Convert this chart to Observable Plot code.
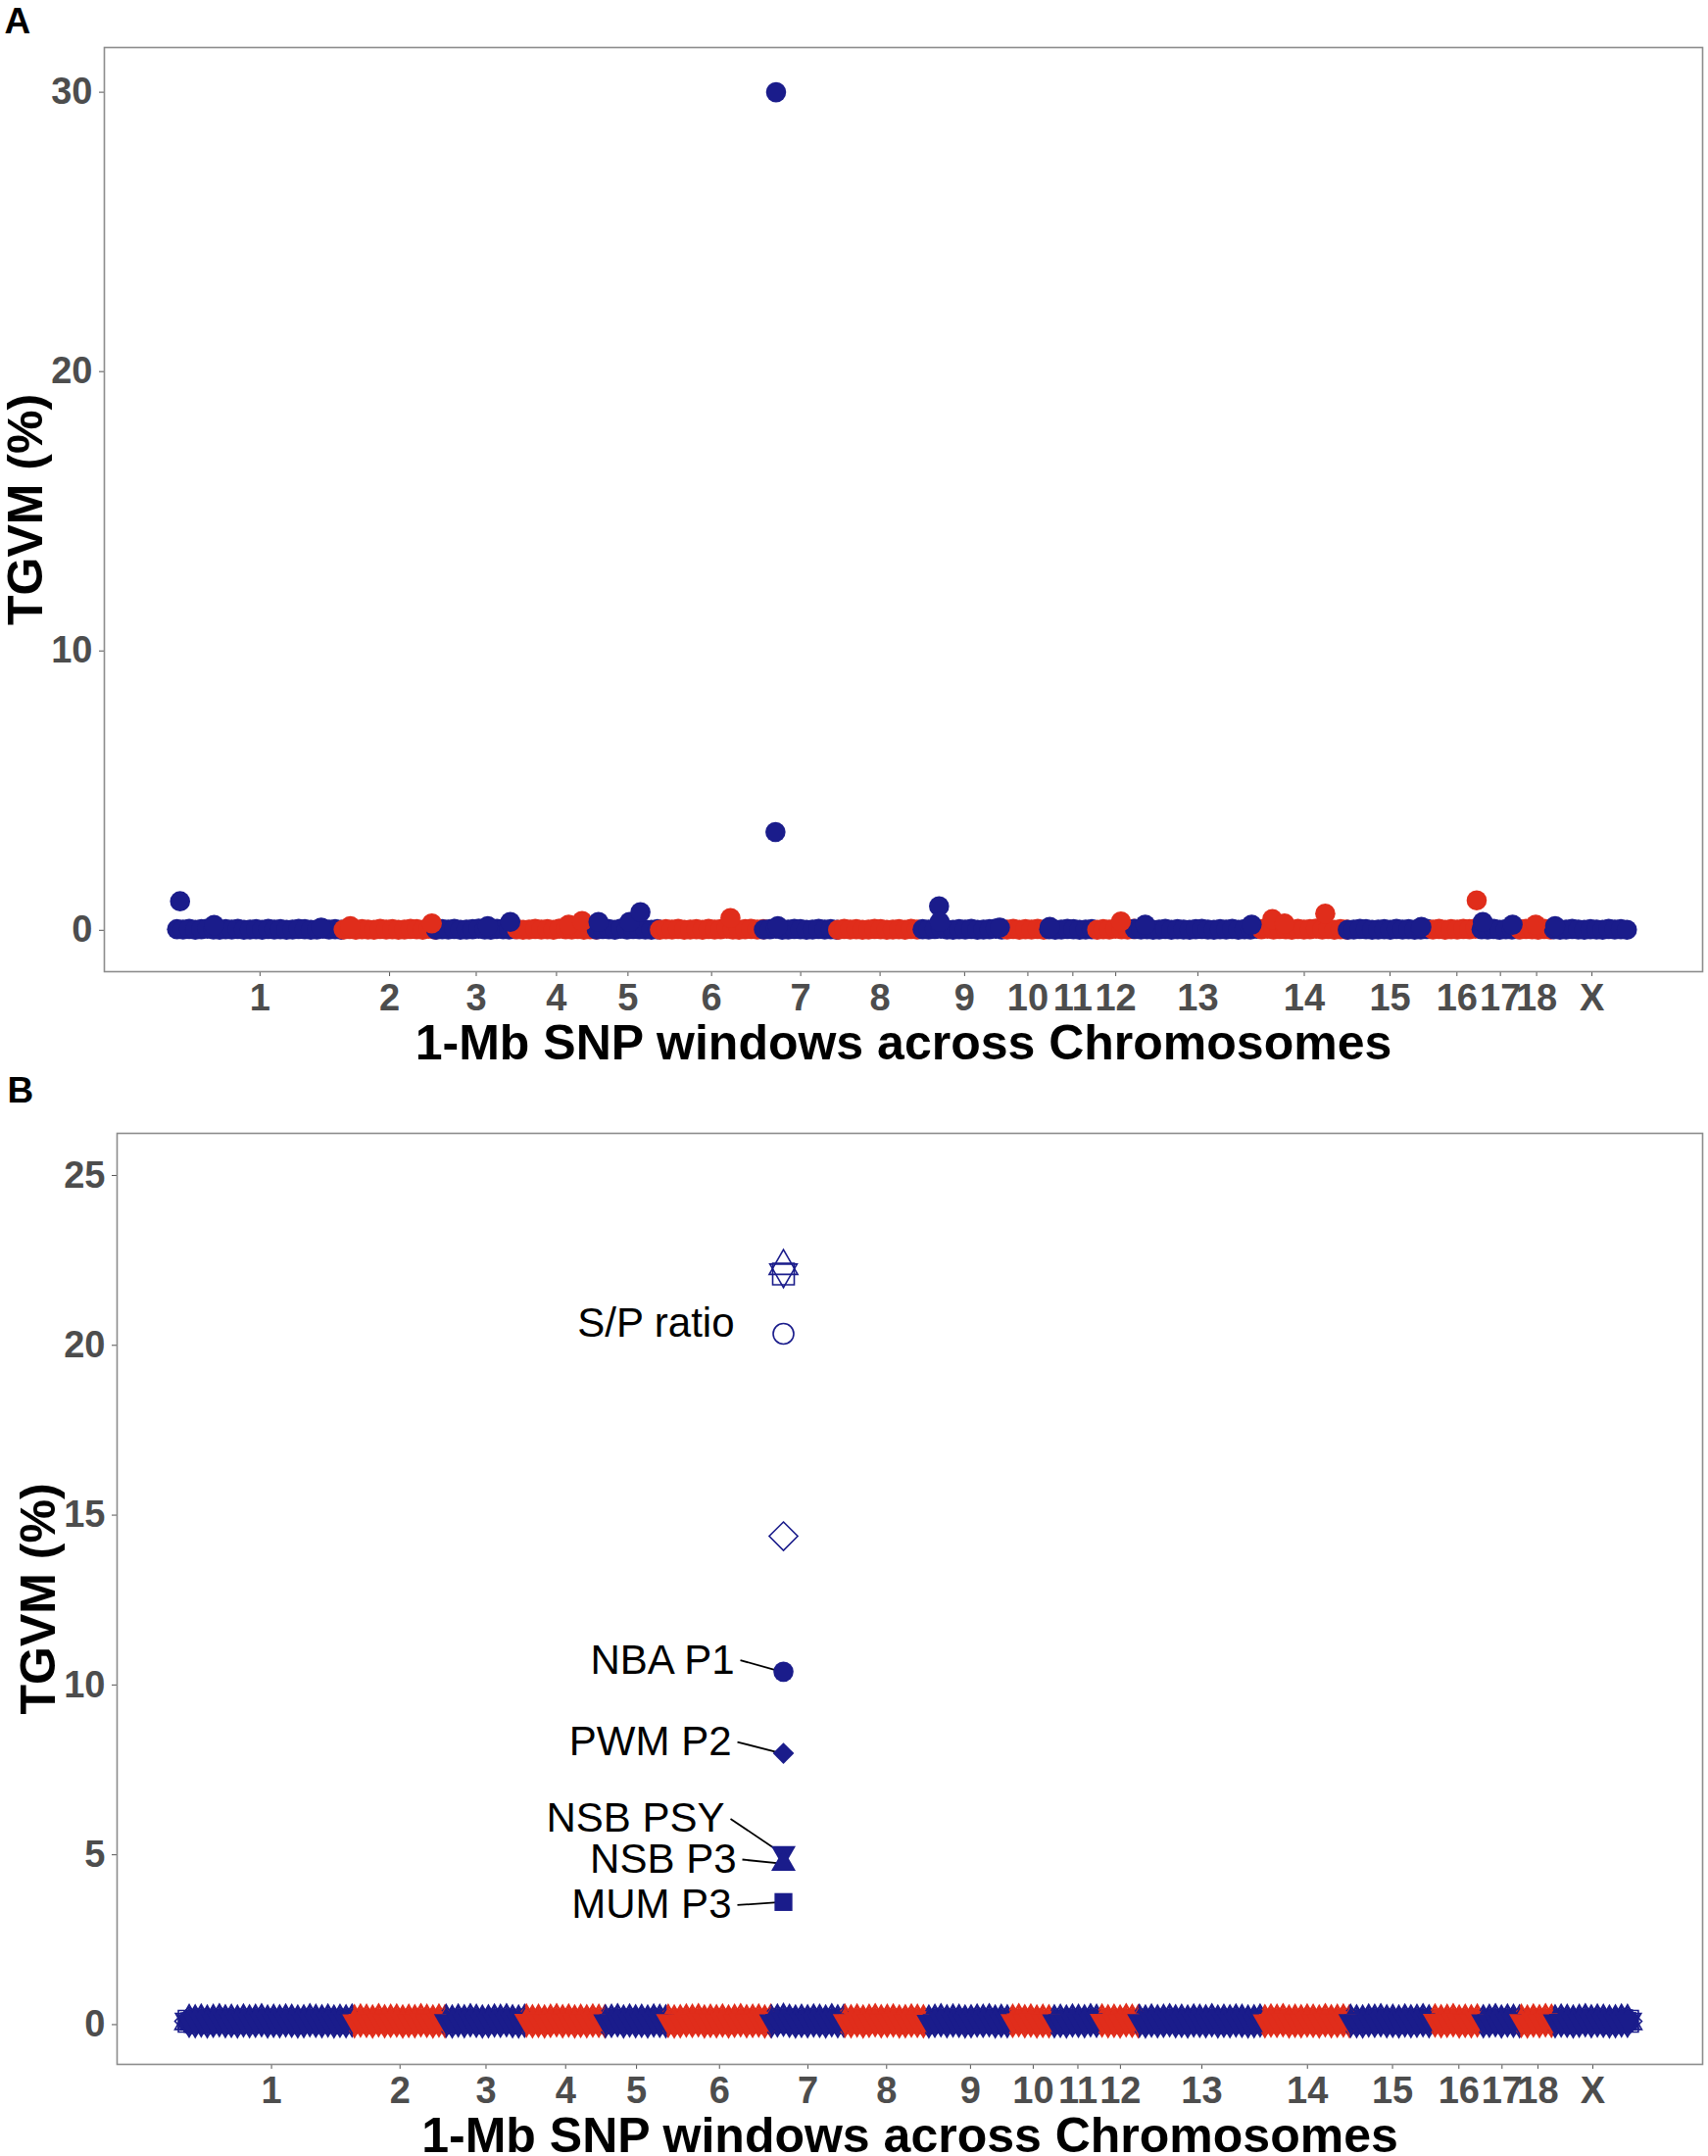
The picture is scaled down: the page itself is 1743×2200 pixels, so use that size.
<!DOCTYPE html>
<html><head><meta charset="utf-8">
<script src="https://cdn.jsdelivr.net/npm/d3@7"></script>
<script src="https://cdn.jsdelivr.net/npm/@observablehq/plot@0.6"></script>
<style>
html,body{margin:0;padding:0;background:#fff;}
#wrap{width:1743px;}
#wrap svg{display:block;}
</style></head><body><div id="wrap"></div>
<script>
// ---------- data ----------
const chromNames   = ["1","2","3","4","5","6","7","8","9","10","11","12","13","14","15","16","17","18","X"];
const chromWindows = [274,152,133,131,104,171,122,139,139,69,79,62,208,142,140,80,63,56,126]; // 1-Mb windows per chromosome
const windowStep = 10; // one baseline sample every 10 windows

// Panel A baseline TGVM (%) per chromosome (one value per sampled window)
const baselineA = [
  [0.04,0.03,0.05,0.02,0.04,0.06,0.03,0.02,0.04,0.03,0.05,0.02,0.03,0.04,0.02,0.05,0.03,0.04,0.02,0.03,0.05,0.04,0.02,0.03,0.06,0.03,0.04,0.02],
  [0.03,0.05,0.02,0.04,0.03,0.02,0.05,0.03,0.04,0.02,0.03,0.05,0.04,0.02,0.06,0.03],
  [0.02,0.04,0.03,0.05,0.02,0.03,0.04,0.06,0.03,0.02,0.05,0.04,0.03,0.05],
  [0.04,0.02,0.03,0.05,0.03,0.04,0.02,0.06,0.04,0.03,0.05,0.02,0.04,0.03],
  [0.03,0.05,0.04,0.02,0.06,0.03,0.05,0.04,0.03,0.02,0.04],
  [0.02,0.04,0.03,0.05,0.02,0.03,0.04,0.02,0.05,0.03,0.04,0.06,0.03,0.02,0.04,0.05,0.03,0.04],
  [0.03,0.04,0.06,0.02,0.03,0.05,0.04,0.02,0.03,0.05,0.03,0.04,0.02],
  [0.02,0.05,0.03,0.04,0.02,0.03,0.05,0.04,0.02,0.03,0.04,0.02,0.05,0.03],
  [0.04,0.03,0.05,0.06,0.03,0.02,0.04,0.03,0.05,0.02,0.03,0.04,0.06,0.03],
  [0.03,0.05,0.02,0.04,0.03,0.05,0.02],
  [0.04,0.02,0.03,0.05,0.04,0.02,0.03,0.04],
  [0.02,0.04,0.03,0.06,0.04,0.03,0.05],
  [0.05,0.03,0.04,0.02,0.03,0.05,0.02,0.04,0.03,0.02,0.04,0.05,0.03,0.02,0.04,0.03,0.05,0.02,0.04,0.03,0.06],
  [0.04,0.06,0.03,0.05,0.04,0.02,0.05,0.03,0.04,0.06,0.03,0.05,0.02,0.04,0.03],
  [0.02,0.03,0.05,0.04,0.02,0.03,0.04,0.02,0.05,0.03,0.04,0.02,0.03,0.05],
  [0.03,0.05,0.02,0.04,0.03,0.05,0.04,0.06],
  [0.04,0.03,0.05,0.02,0.04,0.03,0.05],
  [0.03,0.05,0.04,0.02,0.05,0.03],
  [0.04,0.02,0.03,0.05,0.03,0.02,0.04,0.03,0.02,0.05,0.03,0.04,0.02]
];

// Panel A windows standing out from the baseline
const peakChrA = ["1","1","1","2","2","3","3","4","4","5","5","5","6","7","7","7","9","9","9","11","12","13","13","14","14","14","15","16","17","17","18","X"];
const peakPosA = [6,62,238,12,146,86,123,86,108,4,55,73,117,20,21,24,28,29,128,2,40,18,193,19,39,106,122,73,3,52,27,3];
const peakValA = [1.04,0.19,0.10,0.15,0.25,0.15,0.30,0.20,0.33,0.30,0.30,0.65,0.44,3.52,30.0,0.15,0.86,0.30,0.10,0.12,0.32,0.20,0.20,0.40,0.25,0.60,0.12,1.07,0.30,0.20,0.20,0.15];

// Panel B baseline TGVM (%) per chromosome (shared by all traits)
const baselineB = [
  [0.10,0.09,0.11,0.08,0.10,0.12,0.09,0.10,0.08,0.11,0.09,0.10,0.12,0.08,0.10,0.09,0.11,0.10,0.08,0.09,0.12,0.10,0.09,0.11,0.08,0.10,0.09,0.11],
  [0.09,0.11,0.10,0.08,0.12,0.09,0.10,0.11,0.08,0.10,0.09,0.12,0.10,0.08,0.11,0.09],
  [0.10,0.08,0.11,0.09,0.12,0.10,0.08,0.09,0.11,0.10,0.12,0.09,0.08,0.10],
  [0.11,0.09,0.10,0.08,0.10,0.12,0.09,0.11,0.08,0.10,0.09,0.11,0.10,0.09],
  [0.09,0.10,0.12,0.08,0.11,0.09,0.10,0.08,0.11,0.10,0.09],
  [0.10,0.08,0.09,0.11,0.10,0.12,0.08,0.10,0.09,0.11,0.08,0.10,0.12,0.09,0.10,0.11,0.08,0.10],
  [0.09,0.11,0.13,0.10,0.08,0.10,0.09,0.11,0.10,0.08,0.12,0.09,0.10],
  [0.10,0.09,0.11,0.08,0.10,0.12,0.09,0.10,0.11,0.08,0.09,0.11,0.10,0.09],
  [0.08,0.10,0.12,0.09,0.11,0.10,0.08,0.09,0.11,0.10,0.12,0.08,0.10,0.09],
  [0.10,0.12,0.09,0.11,0.08,0.10,0.09],
  [0.09,0.10,0.08,0.11,0.10,0.09,0.12,0.10],
  [0.11,0.09,0.10,0.08,0.12,0.10,0.09],
  [0.10,0.08,0.11,0.09,0.10,0.12,0.09,0.10,0.08,0.11,0.10,0.09,0.12,0.08,0.10,0.09,0.11,0.10,0.08,0.09,0.11],
  [0.09,0.11,0.10,0.12,0.08,0.10,0.09,0.11,0.10,0.08,0.12,0.09,0.10,0.11,0.09],
  [0.10,0.09,0.08,0.11,0.10,0.12,0.09,0.10,0.08,0.11,0.09,0.10,0.12,0.09],
  [0.11,0.09,0.10,0.12,0.08,0.10,0.09,0.11],
  [0.09,0.10,0.12,0.08,0.11,0.10,0.09],
  [0.10,0.08,0.11,0.09,0.12,0.10],
  [0.09,0.11,0.10,0.08,0.10,0.12,0.09,0.11,0.10,0.08,0.09,0.11,0.10]
];

// Panel B traits (all peaking in the same SSC7 window)
const traitNamesB  = ["S/P ratio a","S/P ratio b","S/P ratio c","S/P ratio d","S/P ratio e","NBA P1","PWM P2","NSB PSY","NSB P3","MUM P3"];
const traitPeakB   = [22.33,22.10,22.16,20.34,14.38,10.39,7.99,5.05,4.74,3.61];
const peakChrB = "7";
const peakPosB = 21;

// Panel B annotation labels
const labelTextB  = ["S/P ratio","NBA P1","PWM P2","NSB PSY","NSB P3","MUM P3"];
const labelTraitB = [3,5,6,7,8,9];
const labelYB     = [20.63,10.73,8.32,6.06,4.86,3.52];

// ---------- styles / layout ----------
const BLUE = "#1a1c8b", RED = "#e02d1b";
const FONT = "'Liberation Sans', Arial, Helvetica, sans-serif";
const traitStyleB = [
  {symbol:"triangle", rotate:0,   r:10.8, filled:false},
  {symbol:"square",   rotate:0,   r:12.4, filled:false},
  {symbol:"triangle", rotate:180, r:10.3, filled:false},
  {symbol:"circle",   rotate:0,   r:10.5, filled:false},
  {symbol:"diamond2", rotate:0,   r:13.1, filled:false},
  {symbol:"circle",   rotate:0,   r:10.3, filled:true},
  {symbol:"diamond2", rotate:0,   r:9.8,  filled:true},
  {symbol:"triangle", rotate:180, r:9.3,  filled:true},
  {symbol:"triangle", rotate:0,   r:9.3,  filled:true},
  {symbol:"square",   rotate:0,   r:10.3, filled:true}
];
// draw order of traits in the band (last is on top)
const bandOrderB = [0,1,2,3,4,5,6,9,8,7];
const labelDxB = [-50,-50,-53,-60,-48,-53];

// ---------- derived ----------
const offsets = chromWindows.map((_, i) => d3.sum(chromWindows.slice(0, i)));
const totalWin = d3.sum(chromWindows);
const colorOf = ci => (ci % 2 === 0 ? BLUE : RED);
const mids = chromWindows.map((n, i) => offsets[i] + n / 2 + 0.5);
const labelByMid = new Map(mids.map((m, i) => [m, chromNames[i]]));
const xDomain = [1 - 0.05 * (totalWin - 1), totalWin + 0.05 * (totalWin - 1)];

function baseRows(arr) {
  return arr.flatMap((vals, ci) => vals.map((v, k) => ({x: offsets[ci] + k * windowStep + 1, y: v, c: colorOf(ci)})));
}
const rowsA = baseRows(baselineA);
const peaksA = peakChrA.map((ch, i) => {
  const ci = chromNames.indexOf(ch);
  return {x: offsets[ci] + peakPosA[i], y: peakValA[i], c: colorOf(ci)};
});
const rowsB = baseRows(baselineB);
const ciB = chromNames.indexOf(peakChrB);
const xPeakB = offsets[ciB] + peakPosB;

function axes(yTicks) {
  return [
    Plot.axisY({ticks: yTicks, tickSize: 5, tickPadding: 7, fontSize: 38, fontWeight: "bold", fill: "#4d4d4d", stroke: "#555", label: null}),
    Plot.axisX({ticks: mids, tickFormat: d => labelByMid.get(d), tickSize: 5, tickPadding: 8, fontSize: 38, fontWeight: "bold", fill: "#4d4d4d", stroke: "#555", label: null})
  ];
}
function titles(letter, letterDx, letterDy) {
  return [
    Plot.text(["1-Mb SNP windows across Chromosomes"], {text: d => d, frameAnchor: "bottom", textAnchor: "middle", lineAnchor: "middle", dy: 73, fontSize: 50, fontWeight: "bold", fill: "black"}),
    Plot.text(["TGVM (%)"], {text: d => d, frameAnchor: "left", textAnchor: "middle", lineAnchor: "middle", dx: -80, rotate: -90, fontSize: 50, fontWeight: "bold", fill: "black"}),
    Plot.text([letter], {text: d => d, frameAnchor: "top-left", textAnchor: "start", lineAnchor: "top", dx: letterDx, dy: letterDy, fontSize: 37, fontWeight: "bold", fill: "black"})
  ];
}

// ---------- Panel A ----------
const A = {w: 1743, h: 1090, mt: 48, mb: 99, ml: 106, mr: 6};
const plotA = Plot.plot({
  width: A.w, height: A.h, marginTop: A.mt, marginBottom: A.mb, marginLeft: A.ml, marginRight: A.mr,
  style: {fontFamily: FONT, background: "white", overflow: "visible"},
  x: {domain: xDomain}, y: {domain: [-1.48, 31.6]},
  color: {type: "identity"},
  marks: [
    ...axes([0, 10, 20, 30]),
    Plot.dot(rowsA, {x: "x", y: "y", fill: "c", r: 10.3}),
    Plot.dot(peaksA, {x: "x", y: "y", fill: "c", r: 10.3}),
    Plot.frame({stroke: "#8c8c8c", strokeWidth: 1.6}),
    ...titles("A", -102, -41)
  ]
});

// ---------- Panel B ----------
const B = {w: 1743, h: 1110, mt: 66, mb: 94, ml: 119, mr: 6};
const pxPerWinB = (B.w - B.ml - B.mr) / (xDomain[1] - xDomain[0]);
const bandMarks = bandOrderB.map(t => {
  const s = traitStyleB[t];
  return s.filled
    ? Plot.dot(rowsB, {x: "x", y: "y", fill: "c", symbol: s.symbol, rotate: s.rotate, r: s.r})
    : Plot.dot(rowsB, {x: "x", y: "y", stroke: "c", fill: "none", strokeWidth: 1.6, symbol: s.symbol, rotate: s.rotate, r: s.r});
});
const peakMarksB = traitNamesB.map((name, t) => {
  const s = traitStyleB[t];
  const d = [{x: xPeakB, y: traitPeakB[t], c: colorOf(ciB)}];
  return s.filled
    ? Plot.dot(d, {x: "x", y: "y", fill: "c", symbol: s.symbol, rotate: s.rotate, r: s.r})
    : Plot.dot(d, {x: "x", y: "y", stroke: "c", fill: "none", strokeWidth: 1.6, symbol: s.symbol, rotate: s.rotate, r: s.r});
});
const labelRows = labelTextB.map((txt, i) => ({
  text: txt, x: xPeakB, y: labelYB[i], dx: labelDxB[i],
  x1: xPeakB + (labelDxB[i] + 6) / pxPerWinB, x2: xPeakB - 2 / pxPerWinB,
  y2: traitPeakB[labelTraitB[i]], leader: i > 0
}));
const plotB = Plot.plot({
  width: B.w, height: B.h, marginTop: B.mt, marginBottom: B.mb, marginLeft: B.ml, marginRight: B.mr,
  style: {fontFamily: FONT, background: "white", overflow: "visible"},
  x: {domain: xDomain}, y: {domain: [-1.17, 26.24]},
  color: {type: "identity"},
  marks: [
    ...axes([0, 5, 10, 15, 20, 25]),
    ...bandMarks,
    Plot.link(labelRows.filter(d => d.leader), {x1: "x1", y1: "y", x2: "x2", y2: "y2", stroke: "black", strokeWidth: 1.8}),
    ...peakMarksB,
    ...labelRows.map(d => Plot.text([d], {x: "x", y: "y", text: "text", dx: d.dx, textAnchor: "end", fontSize: 42, fill: "black"})),
    Plot.frame({stroke: "#8c8c8c", strokeWidth: 1.6}),
    ...titles("B", -112, -58)
  ]
});

document.getElementById("wrap").append(plotA, plotB);
</script>
</body></html>
